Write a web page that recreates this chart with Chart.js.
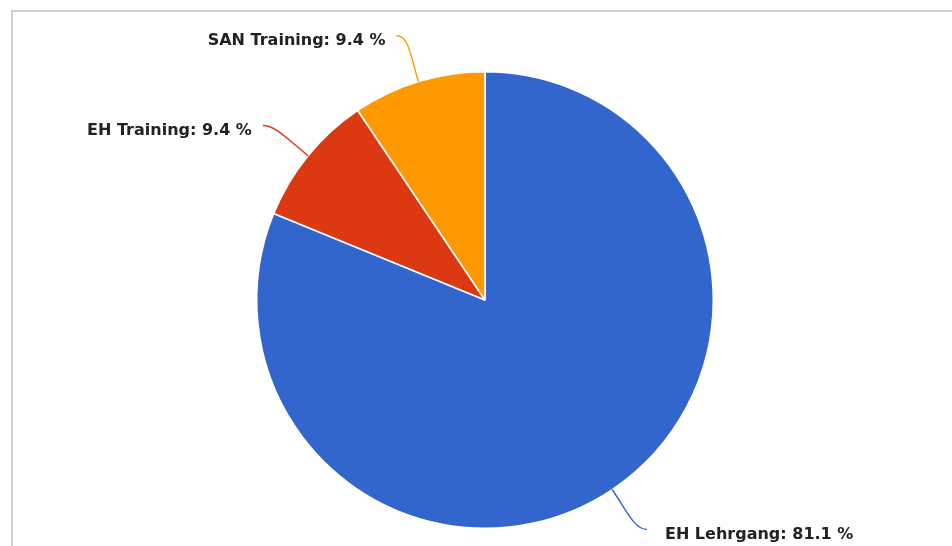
<!DOCTYPE html>
<html>
<head>
<meta charset="utf-8">
<script src="https://cdn.jsdelivr.net/npm/chart.js@4/dist/chart.umd.min.js"></script>
<style>
  html, body { margin: 0; padding: 0; background: #fff; overflow: hidden; }
  #frame { position: absolute; left: 11px; top: 10px; width: 1000px; height: 600px;
           border-top: 2px solid #cfcfcf; border-left: 2px solid #cfcfcf; }
  #chartShares { position: absolute; left: 0; top: 0; }
</style>
</head>
<body>
<div id="frame"></div>
<canvas id="chartShares" width="952" height="546"></canvas>
<script>
const labels = ['EH Lehrgang', 'EH Training', 'SAN Training'];
const shares = [81.1, 9.4, 9.4];
const colors = ['#3366cc', '#dc3912', '#ff9900'];

// draws "name: x %" labels with curved connectors, like the original
const outsideLabels = {
  id: 'outsideLabels',
  afterDraw(chart) {
    const ctx = chart.ctx;
    const arcs = chart.getDatasetMeta(0).data;
    ctx.save();
    ctx.font = 'bold 16px "DejaVu Sans", sans-serif';
    ctx.textBaseline = 'middle';
    arcs.forEach((arc, i) => {
      const mid = (arc.startAngle + arc.endAngle) / 2;
      const dx = Math.cos(mid), dy = Math.sin(mid);
      const r = arc.outerRadius;
      const sx = arc.x + dx * r, sy = arc.y + dy * r;
      const side = dx >= 0 ? 1 : -1;
      const ex = arc.x + dx * (r + 48) + side * 8;
      const ey = arc.y + dy * (r + 48);
      ctx.strokeStyle = colors[i];
      ctx.lineWidth = 1.4;
      ctx.beginPath();
      ctx.moveTo(sx, sy);
      ctx.bezierCurveTo(arc.x + dx * (r + 30), arc.y + dy * (r + 30),
                        ex - side * 12, ey, ex, ey);
      ctx.stroke();
      ctx.fillStyle = '#222';
      ctx.textAlign = side > 0 ? 'left' : 'right';
      ctx.fillText(labels[i] + ': ' + shares[i].toFixed(1) + ' %', ex + side * (side > 0 ? 18 : 11), ey + 5);
    });
    ctx.restore();
  }
};

new Chart('chartShares', {
  type: 'pie',
  data: {
    labels: labels,
    datasets: [{
      data: shares,
      backgroundColor: colors,
      borderColor: '#ffffff',
      borderWidth: 1.5
    }]
  },
  options: {
    responsive: false,
    animation: false,
    layout: { padding: { left: 256, right: 238, top: 71, bottom: 17 } },
    plugins: { legend: { display: false }, tooltip: { enabled: false } }
  },
  plugins: [outsideLabels]
});
</script>
</body>
</html>
